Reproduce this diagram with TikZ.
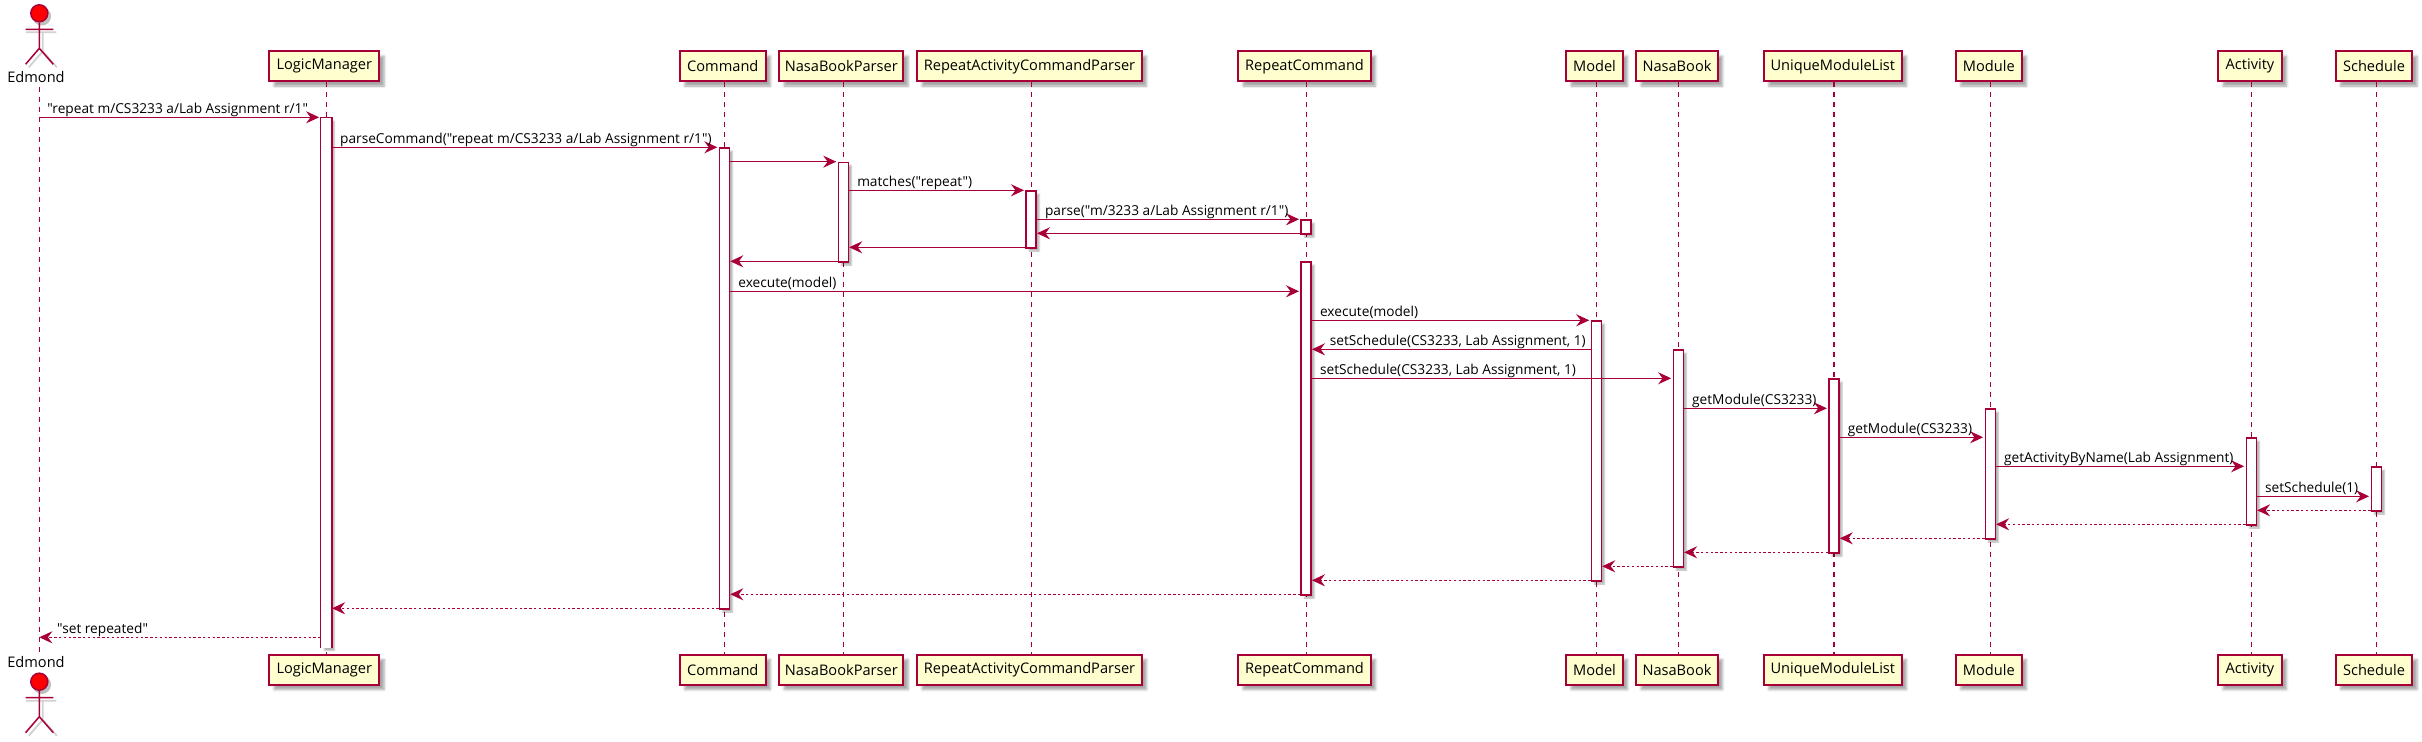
\documentclass[tikz,border=0pt]{standalone}
\usepackage{fontspec}
\setmainfont{Open Sans}[Ligatures=TeXOff]
\usetikzlibrary{arrows.meta, shadows.blur}
\definecolor{umlRed}{HTML}{A80036}
\definecolor{umlCream}{HTML}{FEFECE}
\tikzset{
    stickman/.pic={
        \fill[black!25, line width=0.75pt, draw=black!25] (2.5,3) circle (8.5);
        \draw[black!18, line width=0.9pt] (-13.5,19) -- (17,19) (3.5,19) -- (3.5,38) (3.5,38) -- (-10.5,54) (3.5,38) -- (17.5,54);
        \node[circle, draw=umlRed, fill=red, line width=0.75pt, minimum size=8.5pt, inner sep=0pt] (-head) at (0,0) {};
        \draw[umlRed, line width=0.75pt] (-head.south) -- (0,35) (-13.7,16) -- (14,16) (0,35) -- (-13.7,51) (0,35) -- (14,51);
    }
}
\begin{document}
\begin{tikzpicture}[
    x=0.5pt, y=-0.5pt,
    partBox/.style={draw=umlRed, line width=0.9pt, rectangle, fill=umlCream, align=center, font=\fontsize{7.3}{9}\selectfont, minimum height=15pt, inner sep=0pt, blur shadow={shadow xshift=2.4pt, shadow yshift=-2.4pt, shadow blur radius=1.2pt, shadow blur steps=4, shadow opacity=35}},
    actorName/.style={font=\fontsize{7.3}{9}\selectfont, anchor=base, inner sep=0pt},
    barBox/.style={draw=umlRed, line width=0.75pt, rectangle, fill=white, anchor=north, minimum width=5pt, inner sep=0pt, blur shadow={shadow xshift=1.5pt, shadow yshift=-1.5pt, shadow blur radius=0.7pt, shadow blur steps=3, shadow opacity=30}},
    openBar/.style={barBox, draw=none},
    lifeLine/.style={draw=umlRed, line width=0.6pt, dash pattern=on 2.5pt off 2.5pt},
    syncMsg/.style={draw=umlRed, line width=0.7pt, -{Stealth[length=6.5pt, width=6pt, inset=2.2pt]}, shorten >=0.7pt},
    backMsg/.style={draw=umlRed, line width=0.7pt, -{Stealth[length=6.5pt, width=6pt, inset=2.2pt]}},
    replyMsg/.style={backMsg, dash pattern=on 1.2pt off 1.2pt},
    msgLabel/.style={font=\fontsize{6.85}{8}\selectfont, anchor=base west, inner sep=0pt, xshift=3.7pt, yshift=2.1pt},
    backLabel/.style={msgLabel, xshift=4.9pt},
]
\useasboundingbox (0,0) rectangle (2422,742);
% participants
\pic (edmondTop) at (39.3,13.3) {stickman};
\pic (edmondBottom) at (39.3,681.7) {stickman};
\node[actorName] (edmondNameTop) at (36,83) {Edmond};
\node[actorName] (edmondNameBottom) at (36,667.7) {Edmond};
\node[partBox, minimum width=55pt] (lmTop) at (324.3,66.3) {LogicManager};
\node[partBox, minimum width=55pt] (lmBottom) at (324.3,669.8) {LogicManager};
\node[partBox, minimum width=42.8pt] (cmdTop) at (722.8,66.3) {Command};
\node[partBox, minimum width=42.8pt] (cmdBottom) at (722.8,669.8) {Command};
\node[partBox, minimum width=62pt] (nbpTop) at (841.3,66.3) {NasaBookParser};
\node[partBox, minimum width=62pt] (nbpBottom) at (841.3,669.8) {NasaBookParser};
\node[partBox, minimum width=112.2pt] (racpTop) at (1029.5,66.3) {RepeatActivityCommandParser};
\node[partBox, minimum width=112.2pt] (racpBottom) at (1029.5,669.8) {RepeatActivityCommandParser};
\node[partBox, minimum width=66.2pt] (rcTop) at (1304.5,66.3) {RepeatCommand};
\node[partBox, minimum width=66.2pt] (rcBottom) at (1304.5,669.8) {RepeatCommand};
\node[partBox, minimum width=28.2pt] (modelTop) at (1594.5,66.3) {Model};
\node[partBox, minimum width=28.2pt] (modelBottom) at (1594.5,669.8) {Model};
\node[partBox, minimum width=40.7pt] (nbTop) at (1677,66.3) {NasaBook};
\node[partBox, minimum width=40.7pt] (nbBottom) at (1677,669.8) {NasaBook};
\node[partBox, minimum width=68.8pt] (umlTop) at (1832.8,66.3) {UniqueModuleList};
\node[partBox, minimum width=68.8pt] (umlBottom) at (1832.8,669.8) {UniqueModuleList};
\node[partBox, minimum width=32.8pt] (modTop) at (1988.8,66.3) {Module};
\node[partBox, minimum width=32.8pt] (modBottom) at (1988.8,669.8) {Module};
\node[partBox, minimum width=31.7pt] (actTop) at (2250,66.3) {Activity};
\node[partBox, minimum width=31.7pt] (actBottom) at (2250,669.8) {Activity};
\node[partBox, minimum width=38.2pt] (schTop) at (2374,66.3) {Schedule};
\node[partBox, minimum width=38.2pt] (schBottom) at (2374,669.8) {Schedule};
% lifelines
\coordinate (edmondLine) at (39.3,0);
\coordinate (lmLine) at (326.3,0);
\coordinate (cmdLine) at (724.5,0);
\coordinate (nbpLine) at (843.4,0);
\coordinate (racpLine) at (1031.2,0);
\coordinate (rcLine) at (1306.2,0);
\coordinate (modelLine) at (1596.4,0);
\coordinate (nbLine) at (1678.3,0);
\coordinate (umlLine) at (1834,0);
\coordinate (modLine) at (1990.3,0);
\coordinate (actLine) at (2251.3,0);
\coordinate (schLine) at (2376.3,0);
\draw[lifeLine] (edmondLine |- edmondNameTop.south) ++(0,3) -- (edmondLine |- edmondNameBottom.north);
\draw[lifeLine] (lmLine |- lmTop.south) -- (lmLine |- lmBottom.north);
\draw[lifeLine] (cmdLine |- cmdTop.south) -- (cmdLine |- cmdBottom.north);
\draw[lifeLine] (nbpLine |- nbpTop.south) -- (nbpLine |- nbpBottom.north);
\draw[lifeLine] (racpLine |- racpTop.south) -- (racpLine |- racpBottom.north);
\draw[lifeLine] (rcLine |- rcTop.south) -- (rcLine |- rcBottom.north);
\draw[lifeLine] (modelLine |- modelTop.south) -- (modelLine |- modelBottom.north);
\draw[lifeLine] (nbLine |- nbTop.south) -- (nbLine |- nbBottom.north);
\draw[lifeLine] (umlLine |- umlTop.south) -- (umlLine |- umlBottom.north);
\draw[lifeLine] (modLine |- modTop.south) -- (modLine |- modBottom.north);
\draw[lifeLine] (actLine |- actTop.south) -- (actLine |- actBottom.north);
\draw[lifeLine] (schLine |- schTop.south) -- (schLine |- schBottom.north);
% activation bars
\node[openBar, minimum height=264.8pt] (lmBar) at (326.3,117.3) {};
\draw[umlRed, line width=0.75pt] (lmBar.south west) -- (lmBar.north west) -- (lmBar.north east) -- (lmBar.south east);
\node[barBox, minimum height=230.5pt] (cmdBar) at (724.5,147.3) {};
\node[barBox, minimum height=49.8pt] (nbpBar) at (843.4,161.7) {};
\node[barBox, minimum height=28.5pt] (racpBar) at (1031.2,190.3) {};
\node[barBox, minimum height=7pt] (rcBarA) at (1306.2,219.3) {};
\node[barBox, minimum height=166.5pt] (rcBarB) at (1306.2,261.3) {};
\node[barBox, minimum height=130pt] (modelBar) at (1596.4,320.3) {};
\node[barBox, minimum height=108.5pt] (nbBar) at (1678.3,349.3) {};
\node[barBox, minimum height=87pt] (umlBar) at (1834,378.3) {};
\node[barBox, minimum height=65pt] (modBar) at (1990.3,408.3) {};
\node[barBox, minimum height=43.5pt] (actBar) at (2251.3,437.3) {};
\node[barBox, minimum height=22pt] (schBar) at (2376.3,466.3) {};
% messages
\draw[syncMsg] (edmondLine |- 0,117.3) -- (lmBar.west |- 0,117.3) node[msgLabel, at start] (msgRepeat) {"repeat m/CS3233 a/Lab Assignment r/1"};
\draw[syncMsg] (lmBar.east |- 0,147.3) -- (cmdBar.west |- 0,147.3) node[msgLabel, at start] (msgParseCommand) {parseCommand("repeat m/CS3233 a/Lab Assignment r/1")};
\draw[syncMsg] (cmdBar.east |- 0,161.7) -- (nbpBar.west |- 0,161.7);
\draw[syncMsg] (nbpBar.east |- 0,190.3) -- (racpBar.west |- 0,190.3) node[msgLabel, at start] (msgMatches) {matches("repeat")};
\draw[syncMsg] (racpBar.east |- 0,219.3) -- (rcBarA.west |- 0,219.3) node[msgLabel, at start] (msgParse) {parse("m/3233 a/Lab Assignment r/1")};
\draw[backMsg] (rcBarA.west |- 0,233.3) -- (racpBar.east |- 0,233.3);
\draw[backMsg] (racpBar.west |- 0,247.3) -- (nbpBar.east |- 0,247.3);
\draw[backMsg] (nbpBar.west |- 0,261.3) -- (cmdBar.east |- 0,261.3);
\draw[syncMsg] (cmdBar.east |- 0,291.3) -- (rcBarB.west |- 0,291.3) node[msgLabel, at start] (msgExecuteA) {execute(model)};
\draw[syncMsg] (rcBarB.east |- 0,320.3) -- (modelBar.west |- 0,320.3) node[msgLabel, at start] (msgExecuteB) {execute(model)};
\draw[backMsg] (modelBar.west |- 0,349.3) -- (rcBarB.east |- 0,349.3) node[backLabel, at end] (msgSetScheduleA) {setSchedule(CS3233, Lab Assignment, 1)};
\draw[syncMsg] (rcBarB.east |- 0,378.3) -- (nbBar.west |- 0,378.3) node[msgLabel, at start] (msgSetScheduleB) {setSchedule(CS3233, Lab Assignment, 1)};
\draw[syncMsg] (nbBar.east |- 0,408.3) -- (umlBar.west |- 0,408.3) node[msgLabel, at start] (msgGetModuleA) {getModule(CS3233)};
\draw[syncMsg] (umlBar.east |- 0,437.3) -- (modBar.west |- 0,437.3) node[msgLabel, at start] (msgGetModuleB) {getModule(CS3233)};
\draw[syncMsg] (modBar.east |- 0,466.3) -- (actBar.west |- 0,466.3) node[msgLabel, at start] (msgGetActivity) {getActivityByName(Lab Assignment)};
\draw[syncMsg] (actBar.east |- 0,496.3) -- (schBar.west |- 0,496.3) node[msgLabel, at start] (msgSetScheduleC) {setSchedule(1)};
\draw[replyMsg] (schBar.west |- 0,510.3) -- (actBar.east |- 0,510.3);
\draw[replyMsg] (actBar.west |- 0,524.3) -- (modBar.east |- 0,524.3);
\draw[replyMsg] (modBar.west |- 0,538.3) -- (umlBar.east |- 0,538.3);
\draw[replyMsg] (umlBar.west |- 0,552.3) -- (nbBar.east |- 0,552.3);
\draw[replyMsg] (nbBar.west |- 0,566.3) -- (modelBar.east |- 0,566.3);
\draw[replyMsg] (modelBar.west |- 0,580.3) -- (rcBarB.east |- 0,580.3);
\draw[replyMsg] (rcBarB.west |- 0,594.3) -- (cmdBar.east |- 0,594.3);
\draw[replyMsg] (cmdBar.west |- 0,608.3) -- (lmBar.east |- 0,608.3);
\draw[replyMsg] (lmBar.west |- 0,637.3) -- (edmondLine |- 0,637.3) node[backLabel, at end] (msgSetRepeated) {"set repeated"};
\end{tikzpicture}
\end{document}
